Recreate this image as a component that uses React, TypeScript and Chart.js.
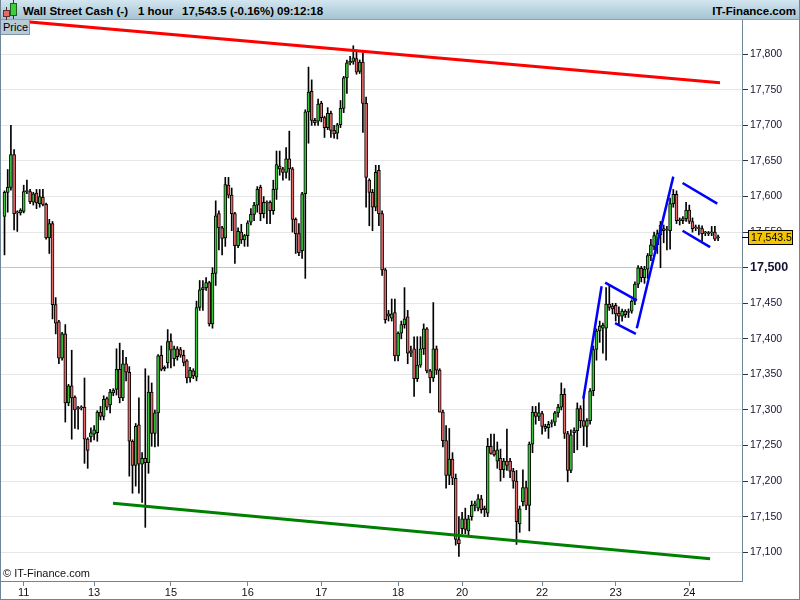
import React, { useEffect, useRef } from 'react';
import { Chart, registerables } from 'chart.js';

Chart.register(...registerables);

const FONT = '"Liberation Sans", Arial, Helvetica, sans-serif';

// Hourly candles, Wall Street Cash (left to right)
const opens = [
  17572, 17606, 17613, 17659, 17578, 17577, 17579, 17607, 17607, 17592,
  17605, 17590, 17599, 17589, 17542, 17562, 17448, 17424, 17373, 17407,
  17310, 17334, 17318, 17303, 17303, 17304, 17259, 17262, 17266, 17268,
  17297, 17291, 17316, 17307, 17324, 17329, 17357, 17317, 17365, 17353,
  17256, 17222, 17279, 17224, 17232, 17226, 17325, 17267, 17296, 17377,
  17358, 17366, 17397, 17372, 17386, 17385, 17377, 17369, 17345, 17355,
  17346, 17444, 17469, 17472, 17479, 17421, 17492, 17576, 17556, 17542,
  17616, 17602, 17576, 17531, 17550, 17539, 17545, 17564, 17575, 17588,
  17613, 17576, 17592, 17592, 17580, 17610, 17643, 17639, 17634, 17653,
  17639, 17568, 17548, 17524, 17604, 17719, 17748, 17707, 17706, 17731,
  17711, 17697, 17717, 17693, 17689, 17701, 17724, 17767, 17788, 17790,
  17794, 17776, 17789, 17731, 17623, 17606, 17585, 17637, 17576, 17497,
  17432, 17429, 17437, 17376, 17408, 17420, 17431, 17380, 17386, 17344,
  17363, 17386, 17414, 17355, 17345, 17386, 17356, 17297, 17257, 17208,
  17231, 17204, 17118, 17133, 17147, 17130, 17150, 17166, 17162, 17175,
  17162, 17155, 17249, 17243, 17228, 17232, 17216, 17228, 17228, 17214,
  17200, 17140, 17171, 17191, 17166, 17252, 17297, 17291, 17295, 17277,
  17275, 17281, 17283, 17296, 17304, 17322, 17267, 17215, 17268, 17271,
  17302, 17285, 17277, 17285, 17327, 17385, 17411, 17415, 17415, 17449,
  17446, 17447, 17436, 17432, 17439, 17437, 17439, 17453, 17477, 17499,
  17486, 17498, 17517, 17530, 17532, 17546, 17552, 17553, 17552, 17590,
  17603, 17566, 17566, 17569, 17581, 17565, 17556, 17556, 17555, 17549,
  17549, 17549, 17550, 17542,
];

const highs = [
  17608, 17638, 17700, 17666, 17580, 17583, 17616, 17623, 17610, 17606,
  17610, 17610, 17610, 17591, 17568, 17565, 17458, 17426, 17409, 17420,
  17336, 17384, 17320, 17305, 17306, 17345, 17261, 17275, 17278, 17299,
  17305, 17320, 17318, 17329, 17330, 17386, 17394, 17384, 17374, 17361,
  17258, 17281, 17317, 17240, 17358, 17348, 17338, 17300, 17378, 17390,
  17362, 17413, 17407, 17390, 17389, 17388, 17384, 17371, 17360, 17358,
  17453, 17482, 17482, 17486, 17481, 17500, 17594, 17580, 17558, 17627,
  17627, 17612, 17578, 17556, 17561, 17547, 17566, 17583, 17592, 17614,
  17616, 17600, 17594, 17594, 17623, 17664, 17664, 17641, 17669, 17692,
  17641, 17570, 17562, 17606, 17722, 17782, 17764, 17710, 17737, 17734,
  17713, 17725, 17720, 17700, 17703, 17735, 17769, 17792, 17797, 17812,
  17806, 17792, 17802, 17740, 17625, 17610, 17644, 17644, 17580, 17499,
  17440, 17456, 17456, 17410, 17425, 17472, 17440, 17390, 17403, 17403,
  17403, 17421, 17416, 17357, 17451, 17390, 17358, 17300, 17278, 17274,
  17240, 17210, 17150, 17156, 17162, 17152, 17172, 17172, 17181, 17180,
  17165, 17260, 17266, 17266, 17255, 17245, 17232, 17273, 17232, 17218,
  17215, 17165, 17216, 17200, 17255, 17305, 17305, 17310, 17298, 17280,
  17284, 17286, 17298, 17308, 17338, 17330, 17270, 17272, 17275, 17310,
  17306, 17320, 17288, 17330, 17390, 17414, 17425, 17422, 17472, 17475,
  17450, 17450, 17445, 17442, 17441, 17442, 17455, 17480, 17503, 17502,
  17502, 17520, 17540, 17550, 17553, 17565, 17560, 17558, 17598, 17610,
  17608, 17570, 17572, 17592, 17588, 17570, 17560, 17560, 17559, 17551,
  17551, 17558, 17558, 17546,
];

const lows = [
  17518, 17578, 17609, 17553, 17551, 17574, 17577, 17604, 17590, 17588,
  17583, 17585, 17587, 17540, 17520, 17428, 17407, 17365, 17370, 17283,
  17306, 17259, 17274, 17273, 17300, 17225, 17218, 17255, 17258, 17256,
  17286, 17286, 17300, 17296, 17320, 17321, 17310, 17313, 17341, 17207,
  17183, 17193, 17183, 17170, 17135, 17211, 17249, 17248, 17249, 17355,
  17355, 17359, 17359, 17362, 17370, 17374, 17362, 17338, 17339, 17344,
  17341, 17440, 17440, 17468, 17418, 17415, 17475, 17525, 17518, 17530,
  17598, 17552, 17506, 17528, 17534, 17530, 17530, 17560, 17566, 17578,
  17566, 17570, 17562, 17562, 17575, 17596, 17630, 17623, 17626, 17623,
  17550, 17520, 17517, 17513, 17485, 17675, 17700, 17700, 17700, 17705,
  17683, 17694, 17683, 17682, 17681, 17697, 17718, 17745, 17785, 17786,
  17772, 17773, 17690, 17585, 17559, 17552, 17580, 17559, 17489, 17422,
  17425, 17425, 17369, 17369, 17400, 17415, 17365, 17375, 17319, 17340,
  17360, 17378, 17352, 17324, 17340, 17350, 17297, 17248, 17190, 17195,
  17195, 17110, 17094, 17126, 17126, 17123, 17145, 17158, 17158, 17155,
  17150, 17150, 17238, 17235, 17218, 17200, 17205, 17215, 17205, 17190,
  17111, 17128, 17165, 17160, 17130, 17240, 17280, 17285, 17266, 17270,
  17260, 17276, 17278, 17290, 17300, 17260, 17199, 17212, 17240, 17244,
  17275, 17250, 17248, 17280, 17320, 17370, 17395, 17380, 17370, 17440,
  17435, 17425, 17420, 17425, 17430, 17430, 17436, 17448, 17472, 17480,
  17478, 17485, 17510, 17525, 17520, 17500, 17535, 17525, 17526, 17585,
  17562, 17560, 17562, 17565, 17562, 17550, 17552, 17546, 17538, 17545,
  17545, 17545, 17538, 17538,
];

const closes = [
  17606, 17613, 17659, 17576, 17577, 17581, 17607, 17608, 17593, 17604,
  17591, 17600, 17589, 17542, 17562, 17448, 17422, 17373, 17407, 17310,
  17334, 17317, 17300, 17302, 17304, 17259, 17243, 17268, 17272, 17297,
  17291, 17315, 17304, 17325, 17328, 17357, 17317, 17365, 17353, 17256,
  17222, 17277, 17224, 17232, 17226, 17325, 17267, 17296, 17376, 17357,
  17360, 17396, 17384, 17386, 17375, 17377, 17367, 17345, 17356, 17348,
  17444, 17469, 17472, 17479, 17421, 17492, 17573, 17556, 17541, 17617,
  17602, 17576, 17531, 17551, 17539, 17545, 17563, 17575, 17588, 17610,
  17576, 17592, 17591, 17580, 17610, 17645, 17639, 17634, 17653, 17639,
  17568, 17548, 17521, 17604, 17719, 17747, 17707, 17704, 17730, 17711,
  17697, 17717, 17693, 17688, 17701, 17724, 17767, 17788, 17790, 17795,
  17775, 17789, 17731, 17627, 17606, 17585, 17634, 17576, 17497, 17427,
  17435, 17435, 17376, 17408, 17420, 17428, 17380, 17383, 17344, 17363,
  17386, 17414, 17355, 17345, 17386, 17356, 17297, 17257, 17208, 17231,
  17204, 17118, 17112, 17147, 17132, 17147, 17166, 17168, 17175, 17160,
  17160, 17249, 17239, 17237, 17244, 17216, 17228, 17222, 17214, 17200,
  17143, 17161, 17191, 17166, 17252, 17297, 17291, 17296, 17277, 17274,
  17280, 17282, 17296, 17304, 17322, 17267, 17215, 17265, 17271, 17302,
  17285, 17277, 17285, 17327, 17385, 17411, 17418, 17419, 17449, 17444,
  17442, 17435, 17432, 17439, 17434, 17437, 17453, 17477, 17500, 17486,
  17498, 17517, 17532, 17545, 17548, 17560, 17555, 17554, 17590, 17603,
  17566, 17567, 17569, 17581, 17565, 17555, 17556, 17555, 17548, 17549,
  17548, 17550, 17540, 17543.5,
];

// X axis: day labels and the candle index where each day starts
const dayLabels = ['11', '13', '15', '16', '17', '18', '20', '22', '23', '24'];
const dayStartIndex = [6, 28, 52, 76, 99, 123, 143, 168, 191, 214];

// Y axis price ticks
const priceTicks = [
  17100, 17150, 17200, 17250, 17300, 17350, 17400, 17450,
  17500, 17550, 17600, 17650, 17700, 17750, 17800,
];
const boldPrice = 17500;

// Drawn trend lines: [candle index, price]
const redTrend = [[-1.1, 17849], [223.6, 17760]];
const greenTrend = [[33.9, 17169], [220.5, 17091]];
const blueTrends = [
  [[180.9, 17316], [186.6, 17474]],
  [[187.7, 17479], [197.6, 17454]],
  [[190.8, 17422], [197.3, 17407]],
  [[197.6, 17415], [209.0, 17628]],
  [[211.9, 17619], [222.75, 17590]],
  [[211.9, 17552], [220.5, 17529]],
];

const GREEN = '#36c636';
const RED = '#e56868';
const AXIS = '#6f8696';

export default function App() {
  const ref = useRef<HTMLCanvasElement>(null);

  useEffect(() => {
    document.body.style.margin = '0';
    const canvas = ref.current;
    if (!canvas) return;
    const idx = closes.map((_, i) => i);
    const bodies = idx.map((i) => ({ x: i, y: [opens[i], closes[i]] }));
    const wicks = idx.map((i) => ({
      x: i,
      y: [Math.min(lows[i], opens[i], closes[i]), Math.max(highs[i], opens[i], closes[i])],
    }));
    const colors = idx.map((i) => (closes[i] >= opens[i] ? GREEN : RED));

    const line = (pts: number[][], color: string, width: number) => ({
      type: 'line' as const,
      data: pts.map(([x, y]) => ({ x, y })),
      borderColor: color,
      borderWidth: width,
      pointRadius: 0,
      fill: false,
      tension: 0,
      order: 0,
    });

    const priceTag = {
      id: 'priceTag',
      afterDraw(chart: any) {
        const { ctx, chartArea } = chart;
        const y = chart.scales.y;
        const last = closes[closes.length - 1];
        const py = Math.round(y.getPixelForValue(last)) + 0.5;
        ctx.save();
        ctx.strokeStyle = '#000';
        ctx.lineWidth = 1;
        ctx.beginPath();
        ctx.moveTo(chartArea.right, py);
        ctx.lineTo(chartArea.right + 6, py);
        ctx.stroke();
        const bx = chartArea.right + 6.5;
        const bw = 44;
        const bh = 14;
        ctx.fillStyle = '#f3c600';
        ctx.fillRect(bx, py - 7, bw, bh);
        ctx.strokeRect(bx, py - 7, bw, bh);
        ctx.fillStyle = '#000';
        ctx.font = `10.5px ${FONT}`;
        ctx.textBaseline = 'middle';
        ctx.textAlign = 'left';
        ctx.fillText(
          last.toLocaleString('en-US', { minimumFractionDigits: 1, maximumFractionDigits: 1 }),
          bx + 2.5,
          py + 0.5
        );
        ctx.restore();
      },
    };

    const chart = new Chart(canvas, {
      type: 'bar',
      data: {
        datasets: [
          line(redTrend, '#ff0000', 3),
          line(greenTrend, '#008000', 3),
          ...blueTrends.map((b) => line(b, '#0000ff', 2.5)),
          {
            type: 'bar',
            data: bodies as any,
            backgroundColor: colors,
            borderColor: '#000',
            borderWidth: 1,
            borderSkipped: false,
            barThickness: 3,
            minBarLength: 1,
            grouped: false,
            order: 1,
          } as any,
          {
            type: 'bar',
            data: wicks as any,
            backgroundColor: '#000',
            borderWidth: 0,
            barThickness: 1,
            grouped: false,
            order: 2,
          } as any,
        ],
      },
      options: {
        animation: false,
        responsive: false,
        devicePixelRatio: 1,
        layout: { padding: { left: 1, right: 0, top: 0, bottom: 0 } },
        plugins: { legend: { display: false }, tooltip: { enabled: false } },
        scales: {
          x: {
            type: 'linear',
            min: -1.094,
            max: 230.47,
            offset: false,
            grid: {
              display: true,
              drawOnChartArea: false,
              drawTicks: true,
              tickLength: 5,
              tickColor: AXIS,
              offset: false,
            },
            border: { display: true, color: AXIS, width: 1 },
            ticks: {
              autoSkip: false,
              maxRotation: 0,
              minRotation: 0,
              padding: 0,
              color: '#111',
              font: { family: FONT, size: 11 },
              callback: (_v: any, i: number) => dayLabels[i],
            },
            afterBuildTicks: (s: any) => {
              s.ticks = dayStartIndex.map((v) => ({ value: v }));
            },
            afterFit: (s: any) => {
              s.height = 19;
              s.paddingLeft = 0;
              s.paddingRight = 0;
              s.paddingTop = 0;
              s.paddingBottom = 0;
            },
          } as any,
          y: {
            type: 'linear',
            position: 'right',
            min: 17059.6,
            max: 17848.2,
            beginAtZero: false,
            grid: {
              color: (c: any) => (c.tick && c.tick.value === boldPrice ? '#c4c4c4' : '#e6e6e6'),
              tickColor: '#333',
              tickLength: 6,
              drawTicks: true,
            },
            border: { display: true, color: AXIS, width: 1 },
            ticks: {
              padding: 2,
              color: '#141432',
              font: (c: any) =>
                c.tick && c.tick.value === boldPrice
                  ? { family: FONT, size: 12.5, weight: 'bold' }
                  : { family: FONT, size: 10.5 },
              callback: (v: any) => Number(v).toLocaleString('en-US'),
            },
            afterBuildTicks: (s: any) => {
              s.ticks = priceTicks.map((v) => ({ value: v }));
            },
            afterFit: (s: any) => {
              s.width = 58;
              s.paddingTop = 0;
              s.paddingBottom = 0;
              s.paddingLeft = 0;
              s.paddingRight = 0;
            },
          } as any,
        },
      },
      plugins: [priceTag],
    });

    return () => chart.destroy();
  }, []);

  const titleText: React.CSSProperties = {
    position: 'absolute',
    top: 1,
    lineHeight: '20px',
    fontSize: 11.5,
    fontWeight: 'bold',
    color: '#000',
    whiteSpace: 'pre',
  };

  return (
    <div
      style={{
        position: 'absolute',
        left: 0,
        top: 0,
        width: 800,
        height: 600,
        background: '#fff',
        overflow: 'hidden',
        fontFamily: FONT,
      }}
    >
      <div
        style={{
          position: 'absolute',
          left: 0,
          top: 0,
          width: 800,
          height: 20,
          background: 'linear-gradient(#d3e6f0, #a5c3d2)',
          borderBottom: '1px solid #8aa3b3',
          boxSizing: 'border-box',
        }}
      >
        <div style={{ position: 'absolute', left: 6, top: 7, width: 1, height: 13, background: '#333' }} />
        <div
          style={{
            position: 'absolute',
            left: 3,
            top: 10,
            width: 7,
            height: 7,
            background: '#e76a6a',
            border: '1px solid #6b2b2b',
            boxSizing: 'border-box',
          }}
        />
        <div style={{ position: 'absolute', left: 13, top: 0, width: 1, height: 19, background: '#333' }} />
        <div
          style={{
            position: 'absolute',
            left: 10,
            top: 3,
            width: 7,
            height: 13,
            background: '#3ad03a',
            border: '1px solid #1d5e1d',
            boxSizing: 'border-box',
          }}
        />
        <span style={{ ...titleText, left: 23 }}>Wall Street Cash (-)</span>
        <span style={{ ...titleText, left: 138 }}>1 hour</span>
        <span style={{ ...titleText, left: 182 }}>17,543.5 (-0.16%)</span>
        <span style={{ ...titleText, left: 277 }}>09:12:18</span>
        <span style={{ ...titleText, right: 4 }}>IT-Finance.com</span>
      </div>
      <canvas
        ref={ref}
        width={800}
        height={580}
        style={{ position: 'absolute', left: 0, top: 20, width: 800, height: 580, display: 'block' }}
      />
      <div
        style={{
          position: 'absolute',
          left: 0,
          top: 20,
          width: 30,
          height: 15,
          background: '#b7cad6',
          borderRight: '1px solid #8196a5',
          borderBottom: '1px solid #8196a5',
          boxSizing: 'border-box',
          fontSize: 11,
          lineHeight: '14px',
          paddingLeft: 3,
          color: '#000',
        }}
      >
        Price
      </div>
      <div
        style={{
          position: 'absolute',
          left: 3,
          top: 567,
          fontSize: 11,
          lineHeight: '13px',
          color: '#111',
          whiteSpace: 'pre',
        }}
      >
        © IT-Finance.com
      </div>
      <div
        style={{
          position: 'absolute',
          left: 0,
          top: 0,
          width: 800,
          height: 600,
          borderLeft: `1px solid ${AXIS}`,
          borderRight: `1px solid ${AXIS}`,
          borderBottom: `1px solid ${AXIS}`,
          boxSizing: 'border-box',
          pointerEvents: 'none',
        }}
      />
    </div>
  );
}
